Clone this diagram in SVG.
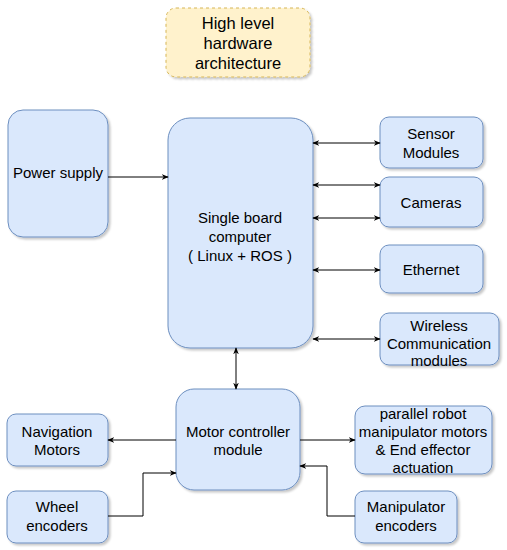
<svg xmlns="http://www.w3.org/2000/svg" width="507" height="550" viewBox="0 0 507 550">
<defs>
<filter id="sh" x="-10%" y="-10%" width="130%" height="130%">
<feDropShadow dx="2" dy="2" stdDeviation="1.2" flood-color="#000" flood-opacity="0.22"/>
</filter>
<marker id="ah" viewBox="0 0 10 10" refX="9" refY="5" markerWidth="7" markerHeight="7" orient="auto-start-reverse" markerUnits="userSpaceOnUse">
<path d="M0,1 L10,5 L0,9 L3,5 Z" fill="#000"/>
</marker>
</defs>
<style>
.n{fill:#dae8fc;stroke:#6c8ebf;stroke-width:1;filter:url(#sh)}
.t{fill:#fff2cc;stroke:#d6b656;stroke-width:1;stroke-dasharray:3 3;filter:url(#sh)}
text{font-family:"Liberation Sans",Arial,sans-serif;font-size:15px;fill:#000;text-anchor:middle}
.tt{font-size:16.5px}
.c{fill:none;stroke:#000;stroke-width:1}
</style>
<rect width="507" height="550" fill="#fff"/>
<g id="title"><rect class="t" x="166" y="8" width="144" height="69" rx="10"/>
<text class="tt" x="238" y="29">High level</text><text class="tt" x="238" y="49">hardware</text><text class="tt" x="238" y="69">architecture</text></g>
<g id="power"><rect class="n" x="8" y="110" width="100" height="127" rx="15"/><text x="58" y="178">Power supply</text></g>
<g id="sbc"><rect class="n" x="168" y="118" width="145" height="230" rx="22"/>
<text x="240" y="223">Single board</text><text x="240" y="242">computer</text><text x="240" y="261">( Linux + ROS )</text></g>
<g id="sensor"><rect class="n" x="380" y="117" width="103" height="51" rx="9"/><text x="431" y="139">Sensor</text><text x="431" y="158">Modules</text></g>
<g id="cameras"><rect class="n" x="380" y="177" width="103" height="50" rx="9"/><text x="431" y="208">Cameras</text></g>
<g id="ethernet"><rect class="n" x="380" y="245" width="103" height="48" rx="9"/><text x="431" y="275">Ethernet</text></g>
<g id="wireless"><rect class="n" x="380" y="313" width="119" height="52" rx="9"/><text x="439" y="331">Wireless</text><text x="439" y="349">Communication</text><text x="439" y="366">modules</text></g>
<g id="motor"><rect class="n" x="176" y="389" width="124" height="101" rx="18"/><text x="238" y="437">Motor controller</text><text x="238" y="455">module</text></g>
<g id="nav"><rect class="n" x="7" y="414" width="101" height="52" rx="9"/><text x="57" y="437">Navigation</text><text x="57" y="455">Motors</text></g>
<g id="wheel"><rect class="n" x="7" y="491" width="101" height="52" rx="9"/><text x="57" y="512">Wheel</text><text x="57" y="531">encoders</text></g>
<g id="parallel"><rect class="n" x="355" y="406" width="137" height="68" rx="10"/><text x="423" y="419">parallel robot</text><text x="423" y="437">manipulator motors</text><text x="423" y="455">&amp; End effector</text><text x="423" y="473">actuation</text></g>
<g id="manip"><rect class="n" x="355" y="491" width="102" height="52" rx="9"/><text x="406" y="512">Manipulator</text><text x="406" y="531">encoders</text></g>
<g id="connectors">
<path class="c" d="M108,177 H168" marker-end="url(#ah)"/>
<path class="c" d="M313,143 H380" marker-start="url(#ah)" marker-end="url(#ah)"/>
<path class="c" d="M313,185 H380" marker-start="url(#ah)" marker-end="url(#ah)"/>
<path class="c" d="M313,218 H380" marker-start="url(#ah)" marker-end="url(#ah)"/>
<path class="c" d="M313,270 H380" marker-start="url(#ah)" marker-end="url(#ah)"/>
<path class="c" d="M313,339 H380" marker-start="url(#ah)" marker-end="url(#ah)"/>
<path class="c" d="M236,348 V389" marker-start="url(#ah)" marker-end="url(#ah)"/>
<path class="c" d="M176,440 H108" marker-end="url(#ah)"/>
<path class="c" d="M300,440 H355" marker-end="url(#ah)"/>
<path class="c" d="M108,516 H143 V473 H176" marker-end="url(#ah)"/>
<path class="c" d="M355,516 H327 V466 H300" marker-end="url(#ah)"/>
</g>
</svg>
